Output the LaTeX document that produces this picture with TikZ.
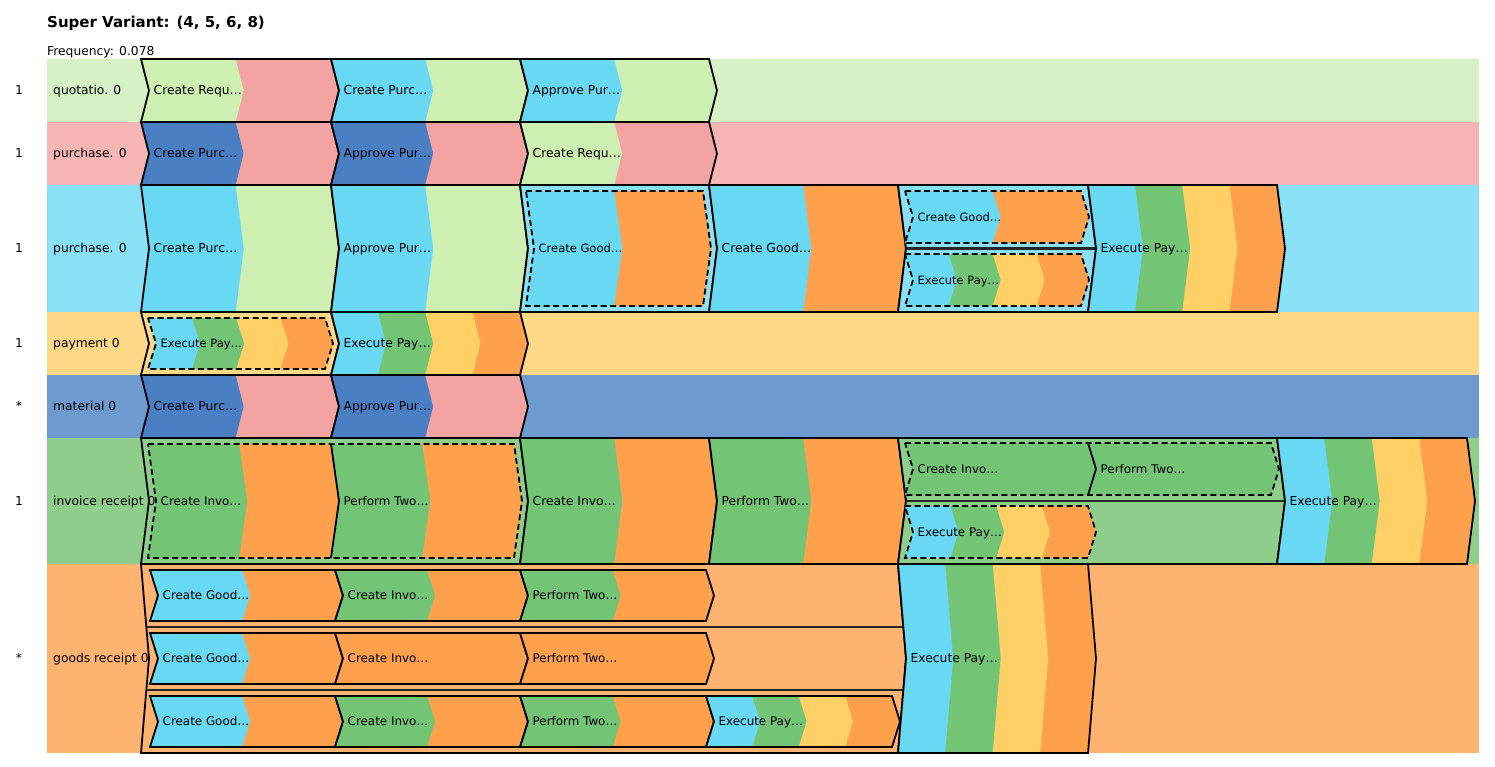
\documentclass[tikz,border=0pt]{standalone}
\usepackage{fontspec}
\setmainfont{DejaVu Sans}
\definecolor{cLg}{HTML}{CDEFB1}
\definecolor{cPk}{HTML}{F4A3A3}
\definecolor{cCy}{HTML}{69D9F3}
\definecolor{cDb}{HTML}{4A7FC4}
\definecolor{cGr}{HTML}{74C476}
\definecolor{cYl}{HTML}{FED066}
\definecolor{cOr}{HTML}{FFA14C}
\definecolor{bA}{HTML}{D6F2C4}
\definecolor{bB}{HTML}{F6B5B5}
\definecolor{bC}{HTML}{8AE1F5}
\definecolor{bD}{HTML}{FED886}
\definecolor{bE}{HTML}{6D9BCF}
\definecolor{bF}{HTML}{8FCD8B}
\definecolor{bG}{HTML}{FFB370}
\newcommand{\fN}{\fontsize{12.3}{14}\selectfont}
\newcommand{\fM}{\fontsize{11.9}{14}\selectfont}
\newcommand{\fS}{\fontsize{11.5}{13}\selectfont}
\tikzset{
  outl/.style={line width=1.8pt, line join=miter},
  dsh/.style={line width=1.8pt, dash pattern=on 6pt off 3.5pt},
  lbl/.style={anchor=base west, inner sep=0pt, font=\fN},
  sep/.style={line width=2.2pt, black!85},
}
\newcommand{\stripes}[6]{%
  \pgfmathsetmacro\sym{(#3+#4)/2}%
  \foreach \cc [count=\ii from 0] in {#6} {%
    \pgfmathsetmacro\sxa{#1+\ii*(#2-#1)/#5}%
    \pgfmathsetmacro\sxb{#1+(\ii+1)*(#2-#1)/#5}%
    \fill[\cc, draw=\cc, line width=0.4pt] (\sxa,#3) -- (\sxb,#3) -- ({\sxb+8},\sym) -- (\sxb,#4) -- (\sxa,#4) -- ({\sxa+8},\sym) -- cycle;
  }%
}
\newcommand{\chline}[5]{\draw[#5] (#1,#3) -- (#2,#3) -- ({#2+8},{(#3+#4)/2}) -- (#2,#4) -- (#1,#4) -- ({#1+8},{(#3+#4)/2}) -- cycle;}
\newcommand{\grp}[5]{\filldraw[fill=#5, outl] (#1,#3) -- (#2,#3) -- ({#2+8},{(#3+#4)/2}) -- (#2,#4) -- (#1,#4) -- ({#1+8},{(#3+#4)/2}) -- cycle;}
\newcommand{\blk}[9]{\stripes{#2}{#3}{#4}{#5}{#6}{#7}\chline{#2}{#3}{#4}{#5}{#9}\node[lbl] (#1) at ({#2+12.5},{(#4+#5)/2+4.4}) {#8};}
\newcommand{\txt}[4]{\node[lbl] (#1) at ({#2+12.5},{#3+4.4}) {#4};}
\begin{document}
\begin{tikzpicture}[x=1pt,y=-1pt]
\useasboundingbox (0,0) rectangle (1495,767);
% title
\node[anchor=base west, inner sep=0pt, font=\bfseries\fontsize{15}{18}\selectfont] (title) at (47,28) {Super Variant: (4, 5, 6, 8)};
\node[anchor=base west, inner sep=0pt, font=\fN] (freq) at (47,55.5) {Frequency: 0.078};
% backgrounds
\fill[bA] (47,59) rectangle (1479,122);
\fill[bB] (47,122) rectangle (1479,185);
\fill[bC] (47,185) rectangle (1479,312);
\fill[bD] (47,312) rectangle (1479,375);
\fill[bE] (47,375) rectangle (1479,438);
\fill[bF] (47,438) rectangle (1479,564);
\fill[bG] (47,564) rectangle (1479,753);
% row 1
\blk{r1a}{141}{331}{59}{122}{2}{cLg,cPk}{Create Requ…}{outl}
\blk{r1b}{331}{520}{59}{122}{2}{cCy,cLg}{Create Purc…}{outl}
\blk{r1c}{520}{709}{59}{122}{2}{cCy,cLg}{Approve Pur…}{outl}
% row 2
\blk{r2a}{141}{331}{122}{185}{2}{cDb,cPk}{Create Purc…}{outl}
\blk{r2b}{331}{520}{122}{185}{2}{cDb,cPk}{Approve Pur…}{outl}
\blk{r2c}{520}{709}{122}{185}{2}{cLg,cPk}{Create Requ…}{outl}
% row 3
\blk{r3a}{141}{331}{185}{312}{2}{cCy,cLg}{Create Purc…}{outl}
\blk{r3b}{331}{520}{185}{312}{2}{cCy,cLg}{Approve Pur…}{outl}
\grp{520}{709}{185}{312}{bC}
\blk{r3c}{526}{703}{191}{306}{2}{cCy,cOr}{\fS Create Good…}{dsh}
\blk{r3d}{709}{898}{185}{312}{2}{cCy,cOr}{Create Good…}{outl}
\grp{898}{1088}{185}{312}{bC}
\draw[sep] (906,248.5) -- (1095,248.5);
\blk{r3e}{905}{1081}{191}{243}{2}{cCy,cOr}{\fS Create Good…}{dsh}
\blk{r3f}{905}{1081}{254}{306}{4}{cCy,cGr,cYl,cOr}{\fS Execute Pay…}{dsh}
\blk{r3g}{1088}{1277}{185}{312}{4}{cCy,cGr,cYl,cOr}{Execute Pay…}{outl}
% row 4
\grp{141}{331}{312}{375}{bD}
\blk{r4a}{148}{325}{318}{369}{4}{cCy,cGr,cYl,cOr}{\fS Execute Pay…}{dsh}
\blk{r4b}{331}{520}{312}{375}{4}{cCy,cGr,cYl,cOr}{Execute Pay…}{outl}
% row 5
\blk{r5a}{141}{331}{375}{438}{2}{cDb,cPk}{Create Purc…}{outl}
\blk{r5b}{331}{520}{375}{438}{2}{cDb,cPk}{Approve Pur…}{outl}
% row 6
\grp{141}{520}{438}{564}{bF}
\stripes{148}{331}{444}{558}{2}{cGr,cOr}
\stripes{331}{514}{444}{558}{2}{cGr,cOr}
\draw[outl] (331,444) -- (339,501) -- (331,558);
\chline{148}{514}{444}{558}{dsh}
\txt{r6a}{148}{501}{\fM Create Invo…}
\txt{r6b}{331}{501}{\fM Perform Two…}
\blk{r6c}{520}{709}{438}{564}{2}{cGr,cOr}{Create Invo…}{outl}
\blk{r6d}{709}{898}{438}{564}{2}{cGr,cOr}{Perform Two…}{outl}
\grp{898}{1277}{438}{564}{bF}
\draw[sep] (906,501) -- (1285,501);
\stripes{905}{1088}{443}{495}{1}{cGr}
\stripes{1088}{1271}{443}{495}{1}{cGr}
\draw[outl] (1088,443) -- (1096,469) -- (1088,495);
\chline{905}{1271}{443}{495}{dsh}
\txt{r6e}{905}{469}{\fM Create Invo…}
\txt{r6f}{1088}{469}{\fM Perform Two…}
\blk{r6g}{905}{1088}{506}{558}{4}{cCy,cGr,cYl,cOr}{\fM Execute Pay…}{dsh}
\blk{r6h}{1277}{1467}{438}{564}{4}{cCy,cGr,cYl,cOr}{Execute Pay…}{outl}
% row 7
\grp{141}{898}{564}{753}{bG}
\draw[sep] (146,627) -- (903,627);
\draw[sep] (146,690) -- (903,690);
\blk{s1a}{150}{335}{570}{621}{2}{cCy,cOr}{\fM Create Good…}{outl}
\blk{s1b}{335}{520}{570}{621}{2}{cGr,cOr}{\fM Create Invo…}{outl}
\blk{s1c}{520}{706}{570}{621}{2}{cGr,cOr}{\fM Perform Two…}{outl}
\blk{s2a}{150}{335}{633}{684}{2}{cCy,cOr}{\fM Create Good…}{outl}
\blk{s2b}{335}{520}{633}{684}{1}{cOr}{\fM Create Invo…}{outl}
\blk{s2c}{520}{706}{633}{684}{1}{cOr}{\fM Perform Two…}{outl}
\blk{s3a}{150}{335}{696}{747}{2}{cCy,cOr}{\fM Create Good…}{outl}
\blk{s3b}{335}{520}{696}{747}{2}{cGr,cOr}{\fM Create Invo…}{outl}
\blk{s3c}{520}{706}{696}{747}{2}{cGr,cOr}{\fM Perform Two…}{outl}
\blk{s3d}{706}{892}{696}{747}{4}{cCy,cGr,cYl,cOr}{\fM Execute Pay…}{outl}
\blk{r7b}{898}{1088}{564}{753}{4}{cCy,cGr,cYl,cOr}{Execute Pay…}{outl}
% row labels
\node[lbl] (l1) at (53,94.9) {quotatio. 0};
\node[lbl] (l2) at (53,157.9) {purchase. 0};
\node[lbl] (l3) at (53,252.9) {purchase. 0};
\node[lbl] (l4) at (53,347.9) {payment 0};
\node[lbl] (l5) at (53,410.9) {material 0};
\node[lbl] (l6) at (53,505.4) {invoice receipt 0};
\node[lbl] (l7) at (53,662.9) {goods receipt 0};
\node[anchor=base, inner sep=0pt, font=\fN] (n1) at (19,94.9) {1};
\node[anchor=base, inner sep=0pt, font=\fN] (n2) at (19,157.9) {1};
\node[anchor=base, inner sep=0pt, font=\fN] (n3) at (19,252.9) {1};
\node[anchor=base, inner sep=0pt, font=\fN] (n4) at (19,347.9) {1};
\node[anchor=base, inner sep=0pt, font=\fN] (n5) at (19,410.9) {*};
\node[anchor=base, inner sep=0pt, font=\fN] (n6) at (19,505.4) {1};
\node[anchor=base, inner sep=0pt, font=\fN] (n7) at (19,662.9) {*};
\end{tikzpicture}
\end{document}
